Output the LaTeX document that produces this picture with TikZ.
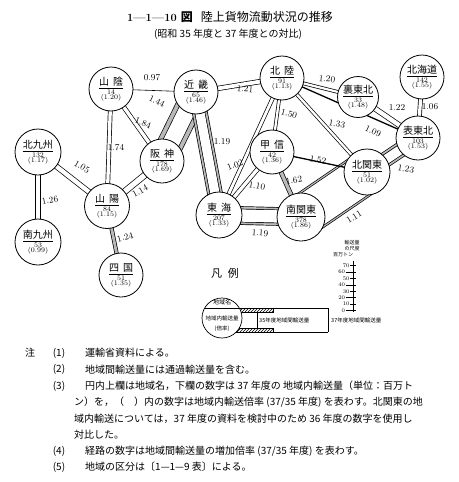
\documentclass[tikz,border=0pt]{standalone}
\usepackage{fontspec}
\newfontfamily\jp{Noto Sans CJK JP}
\usetikzlibrary{calc,patterns}
\pgfdeclarelayer{bg}
\pgfsetlayers{bg,main}
\newcommand\nf{\fontsize{7}{7}\selectfont}
\newcommand\rg[3]{{\fontsize{5}{5}\selectfont\begin{tabular}{@{}c@{}}\rule{0pt}{9pt}{\fontsize{10}{10}\selectfont\jp #1}\\[0.5pt]\hline\rule{0pt}{6pt}{\nf #2}\\[-1.5pt]{\nf(#3)}\end{tabular}}}
\newcommand\rsp{\hspace{4pt}}
% double line band: [inner colour] a b W
\newcommand\dbl[4][white]{%
  \draw[line width={#4pt+0.7pt}] (#2.center) -- (#3.center);
  \draw[line width={#4pt-0.7pt}, #1] (#2.center) -- (#3.center);}
% wide band with hatched edges: a b W h
\newcommand\wide[4]{%
  \draw[line width={#3pt+0.7pt}] (#1.center) -- (#2.center);
  \draw[line width={#3pt-0.7pt}, gray!55] (#1.center) -- (#2.center);
  \draw[line width={#3pt-2*#4pt+0.7pt}] (#1.center) -- (#2.center);
  \draw[line width={#3pt-2*#4pt-0.7pt}, white] (#1.center) -- (#2.center);}
\begin{document}
\begin{tikzpicture}[x=1pt,y=-1pt,
  region/.style={circle, draw, line width=0.8pt, fill=white, minimum size=44pt, inner sep=0pt},
  elab/.style={font=\fontsize{9}{9}\selectfont, inner sep=0pt},
  note/.style={font=\fontsize{10}{10}\selectfont\jp, inner sep=0pt, anchor=west},
  nnum/.style={font=\fontsize{10}{10}\selectfont\jp, inner sep=0pt},
  tiny/.style={font=\fontsize{5.5}{6}\selectfont\jp, inner sep=0pt}]
\useasboundingbox (0,0) rectangle (458,482);
% title
\node[inner sep=0pt] (title) at (230,17) {{\fontsize{11}{11}\selectfont\bfseries 1---1---10\ }{\fontsize{12}{12}\selectfont\jp\bfseries 図}\hspace{8pt}{\fontsize{12}{12}\selectfont\jp 陸上貨物流動状況の推移}};
\node[inner sep=0pt, font=\fontsize{10}{10}\selectfont\jp] (subtitle) at (228,34) {(昭和 35 年度と 37 年度との対比)};
% regions
\node[region] (sanin) at (111,89) {\rg{山\rsp 陰}{14}{1.20}};
\node[region] (kinki) at (196,92) {\rg{近\rsp 畿}{65}{1.46}};
\node[region] (hokuriku) at (282,78) {\rg{北\rsp 陸}{91}{1.13}};
\node[region, minimum size=41pt] (uratohoku) at (358,97) {\rg{裏東北}{33}{1.48}};
\node[region] (hokkaido) at (422,77) {\rg{北海道}{142}{1.55}};
\node[region] (omotetohoku) at (418,138) {\rg{表東北}{103}{1.53}};
\node[region, minimum size=46pt] (kitakyushu) at (38,152) {\rg{北九州}{132}{1.17}};
\node[region] (hanshin) at (162,161) {\rg{阪\rsp 神}{178}{1.69}};
\node[region] (koshin) at (272,152) {\rg{甲\rsp 信}{42}{1.36}};
\node[region, minimum size=46pt] (kitakanto) at (367,172) {\rg{北関東}{51}{1.02}};
\node[region, minimum size=45pt] (sanyo) at (107,206) {\rg{山\rsp 陽}{84}{1.15}};
\node[region, minimum size=46pt] (tokai) at (219,215) {\rg{東\rsp 海}{207}{1.33}};
\node[region, minimum size=48pt] (minamikanto) at (301,217) {\rg{南関東}{378}{1.86}};
\node[region, minimum size=46pt] (minamikyushu) at (38,242) {\rg{南九州}{53}{0.99}};
\node[region] (shikoku) at (121,275) {\rg{四\rsp 国}{51}{1.35}};
% connectors
\begin{pgfonlayer}{bg}
\wide{kitakanto}{minamikanto}{43}{2}
\wide{hanshin}{kinki}{26}{4.5}
\wide{kinki}{tokai}{15}{2.5}
\wide{tokai}{minamikanto}{18}{2.5}
\wide{kitakanto}{omotetohoku}{15}{2.5}
\dbl{kinki}{hokuriku}{4.5}
\dbl{sanin}{hanshin}{4}
\dbl{sanin}{sanyo}{4}
\dbl{kitakyushu}{sanyo}{5}
\dbl{kitakyushu}{minamikyushu}{5}
\dbl{sanyo}{hanshin}{6}
\dbl[gray!55]{sanyo}{shikoku}{3.5}
\dbl{hokuriku}{uratohoku}{3}
\dbl{uratohoku}{omotetohoku}{5}
\dbl{hokkaido}{omotetohoku}{4}
\dbl{hokuriku}{kitakanto}{3}
\dbl{hokuriku}{koshin}{3}
\dbl{hokuriku}{tokai}{3.5}
\dbl{koshin}{tokai}{4}
\dbl[gray!55]{koshin}{minamikanto}{4}
\draw[line width=0.6pt] (sanin.center) -- (kinki.center);
\draw[line width=1.3pt] (hokuriku.center) -- (omotetohoku.center);
\draw[line width=1.3pt] (koshin.center) -- (kitakanto.center);
\end{pgfonlayer}
% connector labels
\node[elab] (l1) at (152,78) {0.97};
\node[elab, rotate=-5] (l2) at (245,89) {1.21};
\node[elab, rotate=-25] (l3) at (157,101) {1.44};
\node[elab, rotate=-20] (l4) at (143,123) {1.84};
\node[elab] (l5) at (116,148) {1.74};
\node[elab] (l6) at (222,142) {1.19};
\node[elab, rotate=-30] (l7) at (82,167) {1.05};
\node[elab, rotate=10] (l8) at (50,200) {1.26};
\node[elab, rotate=30] (l9) at (140,191) {1.14};
\node[elab, rotate=15] (l10) at (125,237) {1.24};
\node[elab, rotate=-5] (l11) at (327,79) {1.20};
\node[elab] (l12) at (397,108) {1.22};
\node[elab] (l13) at (430,107) {1.06};
\node[elab, rotate=-15] (l14) at (289,114) {1.50};
\node[elab, rotate=-10] (l15) at (337,124) {1.33};
\node[elab, rotate=-25] (l16) at (373,131) {1.09};
\node[elab, rotate=20] (l17) at (235,165) {1.02};
\node[elab, rotate=-10] (l18) at (318,160) {1.52};
\node[elab, rotate=-10] (l19) at (257,186) {1.10};
\node[elab, rotate=10] (l20) at (294,180) {1.62};
\node[elab, rotate=-10] (l21) at (406,169) {1.23};
\node[elab, rotate=-5] (l22) at (260,233) {1.19};
\node[elab, rotate=32] (l23) at (354,217) {1.11};
% scale
\node[tiny, font=\fontsize{5}{5}\selectfont\jp] (sc1) at (352,243) {輸送量};
\node[tiny, font=\fontsize{5}{5}\selectfont\jp] (sc2) at (352,248.5) {の尺度};
\node[tiny, font=\fontsize{5}{5}\selectfont\jp] (sc3) at (343,255) {百万トン};
\draw[line width=0.8pt] (353,261) -- (353,312);
\foreach \v in {0,2,4,6} {
  \draw[line width=0.6pt] (345.5,310.5-\v*6.4) -- (356,310.5-\v*6.4);
  \node[inner sep=0.3pt, anchor=east, font=\fontsize{5.5}{6}\selectfont] (t\v) at (345.5,310.5-\v*6.4) {\the\numexpr\v*10\relax};}
\foreach \v in {1,3,5,7} {
  \draw[line width=0.6pt] (350,310.5-\v*6.4) -- (356,310.5-\v*6.4);
  \node[inner sep=0.3pt, anchor=east, font=\fontsize{5.5}{6}\selectfont] (t\v) at (350,310.5-\v*6.4) {\the\numexpr\v*10\relax};}
% legend
\node[inner sep=0pt, font=\fontsize{11}{11}\selectfont\jp] (hanrei) at (225,273) {凡\hspace{6pt}例};
\begin{pgfonlayer}{bg}
\draw[line width=0.6pt, pattern=north east lines] (234,308) rectangle (273,312);
\draw[line width=0.6pt, pattern=north east lines] (234,328) rectangle (273,332);
\end{pgfonlayer}
\node[region, minimum size=40pt, line width=0.7pt] (leg) at (222,318) {};
\coordinate (legl) at (204.7,308);
\coordinate (legr) at (328,308);
\draw[line width=0.6pt] (legl) -- (legr);
\draw[line width=0.6pt] (236,332) -- (328,332);
\draw[line width=0.6pt] (328,308) -- (328,332);
\draw[line width=0.6pt] (257,312) -- (257,328);
\node[tiny, font=\fontsize{6}{6}\selectfont\jp] (leg1) at (222,302.5) {地域名};
\node[tiny] (leg2) at (222,318) {地域内輸送量};
\node[tiny] (leg3) at (222,329) {(倍率)};
\node[tiny, anchor=west] (leg4) at (259,320) {35年度地域間輸送量};
\node[tiny, anchor=west] (leg5) at (331,320) {37年度地域間輸送量};
% notes
\node[nnum] (n0) at (30,353) {注};
\node[nnum] (n1) at (59,353) {(1)};
\node[note] (n1t) at (85,353) {運輸省資料による。};
\node[nnum] (n2) at (59,369.5) {(2)};
\node[note] (n2t) at (85,369.5) {地域間輸送量には通過輸送量を含む。};
\node[nnum] (n3) at (59,386) {(3)};
\node[note] (n3t) at (85,386) {円内上欄は地域名，下欄の数字は 37 年度の 地域内輸送量（単位：百万ト};
\node[note] (n3b) at (74,402) {ン）を，（　）内の数字は地域内輸送倍率 (37/35 年度) を表わす。北関東の地};
\node[note] (n3c) at (74,418.5) {域内輸送については，37 年度の資料を検討中のため 36 年度の数字を使用し};
\node[note] (n3d) at (74,435) {対比した。};
\node[nnum] (n4) at (59,451) {(4)};
\node[note] (n4t) at (85,451) {経路の数字は地域間輸送量の増加倍率 (37/35 年度) を表わす。};
\node[nnum] (n5) at (59,467) {(5)};
\node[note] (n5t) at (85,467) {地域の区分は〔1—1—9 表〕による。};
\end{tikzpicture}
\end{document}
